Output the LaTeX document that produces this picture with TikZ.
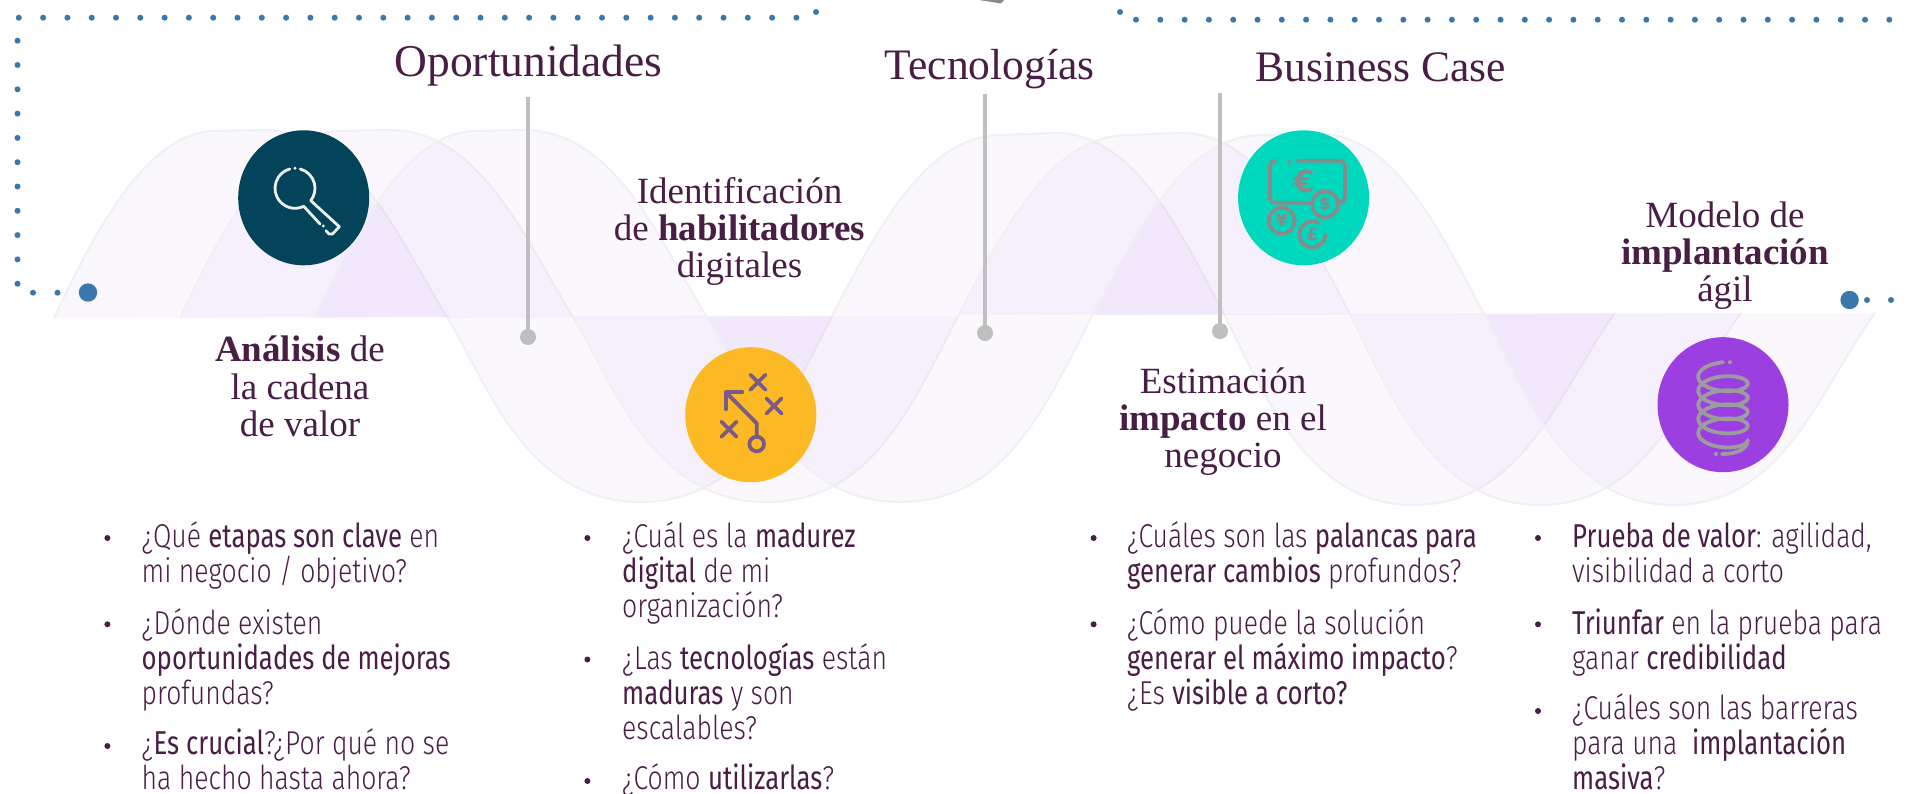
\documentclass[tikz,border=0pt]{standalone}
\usepackage{fontspec}
\usetikzlibrary{shapes.geometric}
\setmainfont{Liberation Serif}
\newfontfamily\bodyfont[FakeStretch=.805,BoldFont={Fira Sans},BoldFeatures={FakeStretch=.78}]{Fira Sans Light}
\newfontfamily\iconfont{DejaVu Sans}
\definecolor{plum}{HTML}{491E45}
\definecolor{dotblue}{HTML}{3A78AB}
\definecolor{barGray}{HTML}{BFBFBF}
\definecolor{waveFill}{RGB}{175,105,235}
\definecolor{waveLine}{HTML}{F0F0F2}
\definecolor{iconDark}{HTML}{03445A}
\definecolor{iconOrange}{HTML}{FDB924}
\definecolor{iconTeal}{HTML}{00D8BE}
\definecolor{iconPurple}{HTML}{9B3FE0}
\definecolor{coinGray}{HTML}{8A8A8A}
\definecolor{lensWhite}{HTML}{EEEEEE}
\definecolor{playStroke}{HTML}{7A5A88}
\definecolor{springGray}{HTML}{9C9C9C}
\newcommand\wavepath{(0,318) .. controls (45,222) and (95,133) .. (160,131) -- (207,130)
  .. controls (300,128) and (345,240) .. (393,317)
  .. controls (430,376) and (470,502) .. (586,502)
  .. controls (690,502) and (730,410) .. (778,316)
  .. controls (830,215) and (875,138) .. (945,135) -- (1000,133)
  .. controls (1080,132) and (1125,230) .. (1170,314)
  .. controls (1210,395) and (1255,505) .. (1359,505)
  .. controls (1470,505) and (1505,390) .. (1561,313)}
\tikzset{
  titletext/.style={anchor=base,text=plum,inner sep=0pt,font=\fontsize{43.5bp}{44bp}\selectfont},
  steptext/.style={anchor=base,text=plum,inner sep=0pt,align=center,font=\fontsize{37bp}{37bp}\selectfont},
  itemtext/.style={anchor=base west,text=plum,inner sep=0pt,align=left,font=\bodyfont\fontsize{33bp}{34.9bp}\selectfont},
  bigdot/.style={fill=dotblue},
  bulletdot/.style={fill=plum},
  stemline/.style={draw=barGray,line width=4.5bp},
  badge/.style={ellipse,minimum width=131bp,minimum height=135bp,inner sep=0pt},
  moneyline/.style={draw=coinGray,line width=3.8bp,line cap=round,line join=round},
  playline/.style={draw=playStroke,line width=3.8bp,line cap=round,line join=round},
}
\begin{document}
\begin{tikzpicture}[x=1bp,y=-1bp]
\useasboundingbox (0,0) rectangle (1911,794);
\fill[white] (0,0) rectangle (1911,794);
\fill[coinGray] (979,0) -- (1001,3.5) -- (1004,0) -- cycle;
% waves
\foreach \dx in {54,180,314}{
  \begin{scope}[xshift=\dx bp]
    \fill[waveFill,fill opacity=.05] \wavepath -- cycle;
    \draw[waveLine,line width=2bp,opacity=.9] \wavepath;
  \end{scope}
}
% dotted borders
\foreach \i in {0,...,32} \fill[dotblue] ({18.8+24.3*\i},17.7) circle (3);
\fill[dotblue] (816,12) circle (3);
\fill[dotblue] (1120,12) circle (3);
\foreach \i in {0,...,31} \fill[dotblue] ({1136+24.3*\i},19.7) circle (3);
\foreach \i in {0,...,10} \fill[dotblue] (17.5,{40.7+24.3*\i}) circle (3);
\fill[dotblue] (33,292.7) circle (3);
\fill[dotblue] (57.5,292.7) circle (3);
\fill[bigdot] (88,292.5) circle (9.2);
\fill[bigdot] (1849.6,300) circle (9.2);
\fill[dotblue] (1867,300) circle (3);
\fill[dotblue] (1891,300) circle (3);
% stems
\coordinate (s1a) at (528,97);  \coordinate (s1b) at (528,337);
\coordinate (s2a) at (985,94);  \coordinate (s2b) at (985,333);
\coordinate (s3a) at (1220,93); \coordinate (s3b) at (1220,331);
\foreach \n in {1,2,3}{
  \draw[stemline] (s\n a) -- (s\n b);
  \fill[barGray] (s\n b) circle (8);
}
% titles
\node[titletext,font=\fontsize{45.5bp}{46bp}\selectfont] (t1) at (528.5,76.7) {Oportunidades};
\node[titletext] (t2) at (989.6,80) {Tecnologías};
\node[titletext] (t3) at (1381,81.7) {Business Case};
% badges
\node[badge,fill=iconDark] (b1) at (303.7,197.8) {};
\node[badge,fill=iconOrange] (b2) at (750.8,414.7) {};
\node[badge,fill=iconTeal] (b3) at (1303.6,197.8) {};
\node[badge,fill=iconPurple] (b4) at (1723,404.7) {};
% magnifier
\begin{scope}[draw=lensWhite,line width=2.8bp,line cap=round,line join=round]
  \draw ({295+20*cos(-75)},{188.3+20*sin(-75)}) arc[start angle=-75,end angle=38,radius=20]
     -- (339.3,226.7) -- (332.5,234) -- (329,234) -- (326,230.7);
  \fill[lensWhite] (323.3,226) circle (1.6);
  \draw (320,224) -- ({295+20*cos(64)},{188.3+20*sin(64)}) arc[start angle=64,end angle=255,radius=20];
  \fill[lensWhite] (295,168.3) circle (1.6);
\end{scope}
% play diagram
\foreach \cx/\cy in {758/382.3,774/406,729/429.3}{
  \draw[playline] (\cx-7.5,\cy-7.5) -- (\cx+7.5,\cy+7.5);
  \draw[playline] (\cx-7.5,\cy+7.5) -- (\cx+7.5,\cy-7.5);
}
\draw[playline] (742.3,392.3) -- (726,392.3) -- (726,409.3);
\draw[playline] (726,392.3) -- (756.7,423.3) -- (756.7,436.7);
\draw[playline] (756.7,444) circle (7.3);
% money
\draw[moneyline] (1275,160.7) arc[start angle=-90,end angle=-180,radius=5] -- (1270,197.7)
   arc[start angle=180,end angle=90,radius=5] -- (1340,202.7)
   arc[start angle=90,end angle=0,radius=5] -- (1345,165.7)
   arc[start angle=0,end angle=-90,radius=5] -- (1298,160.7);
\fill[coinGray] (1289.5,162) circle (2);
\draw[moneyline,fill=iconTeal] (1325,204.3) circle (13);
\draw[moneyline] (1281.7,220.7) circle (13);
\draw[moneyline] (1325.5,234.3) arc[start angle=0,end angle=300,radius=13];
\fill[coinGray] (1320,244) circle (1.8);
\node[inner sep=0pt,text=coinGray,font=\iconfont\bfseries\fontsize{30bp}{30bp}\selectfont] (euro) at (1304,182) {€};
\node[inner sep=0pt,text=coinGray,font=\iconfont\bfseries\fontsize{17bp}{17bp}\selectfont] (dollar) at (1325,204.3) {\$};
\node[inner sep=0pt,text=coinGray,font=\iconfont\bfseries\fontsize{17bp}{17bp}\selectfont] (yen) at (1281.7,220.7) {¥};
\node[inner sep=0pt,text=coinGray,font=\iconfont\bfseries\fontsize{17bp}{17bp}\selectfont] (pound) at (1312.3,234.3) {£};
% spring
\draw[springGray,line width=3.8bp,line cap=round,line join=round]
  plot[domain=90:1800,samples=320,variable=\t] ({1723+24.7*cos(\t)},{373.1+(\t-90)/360*14.08-10.8*sin(\t)})
  .. controls (1747.7,450) and (1735,454) .. (1722,454);
\fill[springGray] (1730,362.3) circle (2.1);
\fill[springGray] (1716,454) circle (2.1);
% step labels
\node[steptext] (l1a) at (300,361.7) {\textbf{Análisis} de};
\node[steptext] (l1b) at (300,399) {la cadena};
\node[steptext] (l1c) at (300,436) {de valor};
\node[steptext] (l2a) at (739.5,203) {Identificación};
\node[steptext] (l2b) at (739.5,240.7) {de \textbf{habilitadores}};
\node[steptext] (l2c) at (739.5,277.7) {digitales};
\node[steptext] (l3a) at (1223,393) {Estimación};
\node[steptext] (l3b) at (1223,430) {\textbf{impacto} en el};
\node[steptext] (l3c) at (1223,467.7) {negocio};
\node[steptext] (l4a) at (1725,227.3) {Modelo de};
\node[steptext] (l4b) at (1725,264.3) {\textbf{implantación}};
\node[steptext] (l4c) at (1725,301.7) {ágil};
% column 1
\foreach \y in {538,624.3,746}\fill[bulletdot] (107.4,\y) circle (3);
\node[itemtext] (c1a) at (141.5,582) {¿Qué \textbf{etapas son clave} en\\mi negocio / objetivo?};
\node[itemtext] (c1b) at (141.5,704) {¿Dónde existen\\\textbf{oportunidades de mejoras}\\profundas?};
\node[itemtext] (c1c) at (141.5,789) {¿\textbf{Es crucial}?¿Por qué no se\\ha hecho hasta ahora?};
% column 2
\foreach \y in {538,659.5,781}\fill[bulletdot] (587.4,\y) circle (3);
\node[itemtext] (c2a) at (622,617) {¿Cuál es la \textbf{madurez}\\\textbf{digital} de mi\\organización?};
\node[itemtext] (c2b) at (622,739) {¿Las \textbf{tecnologías} están\\\textbf{maduras} y son\\escalables?};
\node[itemtext] (c2c) at (622,789) {¿Cómo \textbf{utilizarlas}?};
% column 3
\foreach \y in {538,624.3}\fill[bulletdot] (1093.6,\y) circle (3);
\node[itemtext] (c3a) at (1127,582) {¿Cuáles son las \textbf{palancas para}\\\textbf{generar cambios} profundos?};
\node[itemtext] (c3b) at (1127,704) {¿Cómo puede la solución\\\textbf{generar el máximo impacto}?\\¿Es \textbf{visible a corto?}};
% column 4
\foreach \y in {538,624.3,711}\fill[bulletdot] (1538,\y) circle (3);
\node[itemtext] (c4a) at (1572,582) {\textbf{Prueba de valor}: agilidad,\\visibilidad a corto};
\node[itemtext] (c4b) at (1572,669) {\textbf{Triunfar} en la prueba para\\ganar \textbf{credibilidad}};
\node[itemtext] (c4c) at (1572,789) {¿Cuáles son las barreras\\para una~~\textbf{implantación}\\\textbf{masiva}?};
\end{tikzpicture}
\end{document}
